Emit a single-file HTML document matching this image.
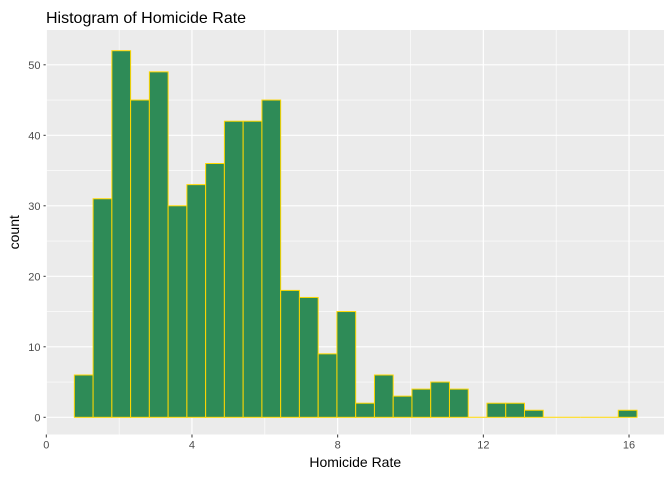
<!DOCTYPE html>
<html><head><meta charset="utf-8"><style>
body{margin:0;background:#fff;font-family:"Liberation Sans",sans-serif}
</style></head><body>
<svg id="c" width="672" height="480" xmlns="http://www.w3.org/2000/svg" font-family="Liberation Sans, sans-serif"></svg>
<script>
const counts=[6,31,52,45,49,30,33,36,42,42,45,18,17,9,15,2,6,3,4,5,4,0,2,2,1,0,0,0,0,1];
const binStart=0.77;
const binWidth=0.515;
const xTicks=[0,4,8,12,16];
const yTicks=[0,10,20,30,40,50];
const NS="http://www.w3.org/2000/svg";
const svg=document.getElementById('c');
const L=46.5,R=664,T=30,B=434.5;
const xs=v=>46.3+v*36.42;
const ys=v=>417.3-v*7.05;
function el(t,a,p){const e=document.createElementNS(NS,t);for(const k in a)e.setAttribute(k,a[k]);(p||svg).appendChild(e);return e;}
const panel=el('rect',{x:L,y:T,width:R-L,height:B-T,fill:'#ebebeb'});


for(let i=0;i<yTicks.length;i++){const m=yTicks[i]+5;if(ys(m)>T)el('line',{x1:L,x2:R,y1:ys(m),y2:ys(m),stroke:'#fff','stroke-width':0.6});}
for(let i=0;i<xTicks.length;i++){const m=xTicks[i]+2;if(xs(m)<R)el('line',{x1:xs(m),x2:xs(m),y1:T,y2:B,stroke:'#fff','stroke-width':0.6});}
yTicks.forEach(v=>{const g=el('line',{x1:L,x2:R,y1:ys(v),y2:ys(v),stroke:'#fff','stroke-width':1.2});


el('line',{x1:L-3,x2:L,y1:ys(v),y2:ys(v),stroke:'#333','stroke-width':1});
const t=el('text',{x:L-6,y:ys(v)+4,'text-anchor':'end','font-size':11,fill:'#4d4d4d'});t.textContent=v;

});
xTicks.forEach(v=>{el('line',{x1:xs(v),x2:xs(v),y1:T,y2:B,stroke:'#fff','stroke-width':1.2});
el('line',{x1:xs(v),x2:xs(v),y1:B,y2:B+3,stroke:'#333','stroke-width':1});
const t=el('text',{x:xs(v),y:B+14,'text-anchor':'middle','font-size':11,fill:'#4d4d4d'});t.textContent=v;

});
counts.forEach((c,i)=>{const x0=xs(binStart+i*binWidth),x1=xs(binStart+(i+1)*binWidth);
if(c===0){const z=el('line',{x1:x0,x2:x1,y1:ys(0),y2:ys(0),stroke:'#ffd700','stroke-width':1});

return;}
const r=el('rect',{x:x0,y:ys(c),width:x1-x0,height:ys(0)-ys(c),fill:'#2e8b57',stroke:'#ffd700','stroke-width':1});

});
const title=el('text',{x:46,y:23,'font-size':16,fill:'#000'});title.textContent='Histogram of Homicide Rate';


const xt=el('text',{x:(L+R)/2,y:467,'text-anchor':'middle','font-size':14,fill:'#000'});xt.textContent='Homicide Rate';


const yt=el('text',{x:0,y:0,'text-anchor':'middle','font-size':14,fill:'#000',transform:`translate(19,${(T+B)/2}) rotate(-90)`});yt.textContent='count';


</script>
</body></html>
